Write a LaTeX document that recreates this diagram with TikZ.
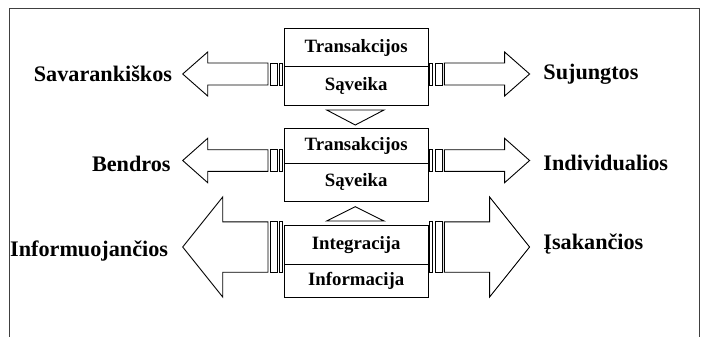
\documentclass[tikz,border=0pt]{standalone}
\usepackage{fontspec}
\setmainfont{Liberation Serif}
\usetikzlibrary{positioning}

% one pair of striped block arrows, y = centre line
% #1 y, #2 half shaft, #3 half head, #4 head length
\newcommand\stripedpair[4]{%
  \draw (268,{#1-#2}) -- ({182.7+#4},{#1-#2}) -- ({182.7+#4},{#1-#3})
    -- (182.7,#1) -- ({182.7+#4},{#1+#3}) -- ({182.7+#4},{#1+#2})
    -- (268,{#1+#2}) -- cycle;
  \draw (270.3,{#1-#2}) rectangle (277.3,{#1+#2});
  \draw (279.5,{#1-#2}) rectangle (282.5,{#1+#2});
  \draw (444.3,{#1-#2}) -- ({529.6-#4},{#1-#2}) -- ({529.6-#4},{#1-#3})
    -- (529.6,#1) -- ({529.6-#4},{#1+#3}) -- ({529.6-#4},{#1+#2})
    -- (444.3,{#1+#2}) -- cycle;
  \draw (429.8,{#1-#2}) rectangle (432.8,{#1+#2});
  \draw (435,{#1-#2}) rectangle (442,{#1+#2});
}

\begin{document}
\begin{tikzpicture}[x=1pt,y=-1pt,line width=0.9pt]
  \useasboundingbox (0,0) rectangle (707,337);
  \draw[black!75] (9,337) |- (699.3,8.3) -- (699.3,337);
  \begin{scope}[
    every node/.style={
      draw,
      minimum width=144.3pt,
      inner sep=0pt,
      outer sep=0pt,
      font=\bfseries\fontsize{18.8}{20}\selectfont,
    },
    ]
    \node[anchor=north,minimum height=38.4pt] (trans-a) at (356.15,28.3) {Transakcijos};
    \node[below=0pt of trans-a,minimum height=39pt] (saveika-a) {Sąveika};
    \node[anchor=north,minimum height=34.7pt] (trans-b) at (356.15,128.3) {Transakcijos};
    \node[below=0pt of trans-b,minimum height=38.5pt] (saveika-b) {Sąveika};
    \node[anchor=north,minimum height=38.8pt] (integr) at (356.15,225.5) {Integracija};
    \node[below=0pt of integr,minimum height=32.7pt] (inform) {Informacija};
  \end{scope}
  \begin{scope}[
    every node/.style={inner sep=0pt,font=\bfseries\fontsize{22.2}{24}\selectfont},
    ]
    \node[anchor=base east] (savar)  at (172.5,81.7)  {Savarankiškos};
    \node[anchor=base east] (bendr)  at (171,171.7)   {Bendros};
    \node[anchor=base east] (informu) at (168.5,256.7) {Informuojančios};
    \node[anchor=base west] (sujung) at (543,80)      {Sujungtos};
    \node[anchor=base west] (indiv)  at (543,170)     {Individualios};
    \node[anchor=base west] (isak)   at (543,249)     {Įsakančios};
  \end{scope}
  \stripedpair{74}{11}{22}{25}
  \stripedpair{160.5}{10.8}{22.2}{25}
  \stripedpair{247}{25.2}{50}{40}
  \draw (326.7,110) -- (384,110) -- (355.3,125) -- cycle;
  \draw (326.7,221) -- (384,221) -- (355.3,206.7) -- cycle;
\end{tikzpicture}
\end{document}
